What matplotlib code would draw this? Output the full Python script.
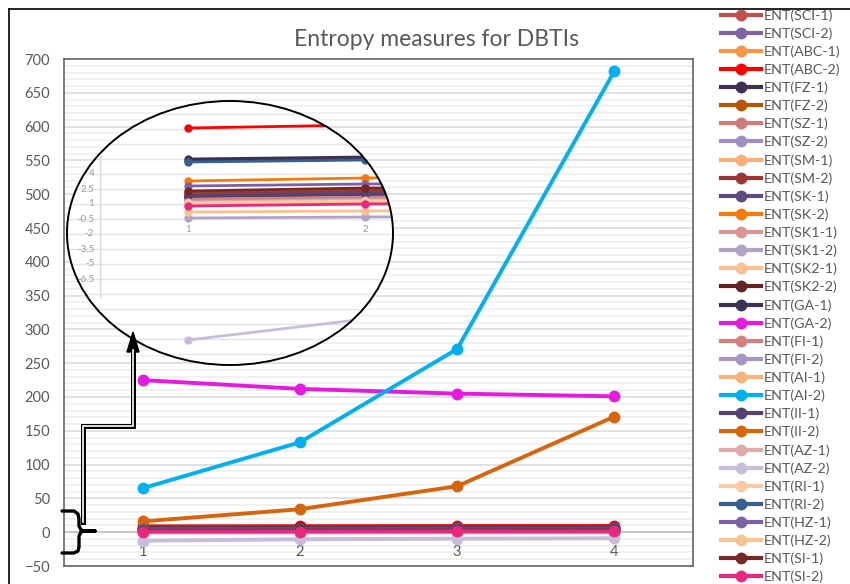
import matplotlib
matplotlib.use("Agg")
import matplotlib.pyplot as plt
from matplotlib.lines import Line2D
from matplotlib.patches import Ellipse, Polygon
from matplotlib.ticker import MultipleLocator

plt.rcParams['font.family'] = ['Lato', 'DejaVu Sans']

W, H = 850, 584
GRAY = '#595959'

# x categories (1..4) and the entropy series
steps = [1, 2, 3, 4]

names = ['SCI-1', 'SCI-2', 'ABC-1', 'ABC-2', 'FZ-1', 'FZ-2', 'SZ-1', 'SZ-2',
         'SM-1', 'SM-2', 'SK-1', 'SK-2', 'SK1-1', 'SK1-2', 'SK2-1', 'SK2-2',
         'GA-1', 'GA-2', 'FI-1', 'FI-2', 'AI-1', 'AI-2', 'II-1', 'II-2',
         'AZ-1', 'AZ-2', 'RI-1', 'RI-2', 'HZ-1', 'HZ-2', 'SI-1', 'SI-2']

colors = ['#C0504D', '#8064A2', '#F79646', '#FF0000', '#403152', '#B65708',
          '#D07B7A', '#A18EC2', '#F9B07A', '#9C3533', '#604A7B', '#F57A0A',
          '#DA9694', '#B3A2C7', '#FAC090', '#632523', '#3F3151', '#E619E1',
          '#D47F7E', '#A897C3', '#F8B27C', '#00B0F0', '#55426F', '#D8650B',
          '#E3A9A8', '#C8BCDA', '#FBCCA4', '#376092', '#7F60A8', '#FAC48F',
          '#772727', '#E8287F']

ent_sci1 = [1.8, 2.0, 2.1, 2.2]
ent_sci2 = [1.5, 1.7, 1.8, 1.9]
ent_abc1 = [1.3, 1.5, 1.6, 1.7]
ent_abc2 = [8.6, 8.9, 9.1, 9.2]
ent_fz1 = [5.5, 5.7, 5.8, 5.9]
ent_fz2 = [2.2, 2.5, 2.7, 2.8]
ent_sz1 = [1.6, 1.8, 1.9, 2.0]
ent_sz2 = [1.4, 1.6, 1.7, 1.8]
ent_sm1 = [1.2, 1.4, 1.5, 1.6]
ent_sm2 = [2.0, 2.3, 2.4, 2.5]
ent_sk1 = [1.9, 2.1, 2.2, 2.3]
ent_sk2 = [3.3, 3.6, 3.8, 3.9]
ent_sk1_1 = [1.1, 1.3, 1.4, 1.5]
ent_sk1_2 = [-0.4, -0.3, -0.2, -0.1]
ent_sk2_1 = [0.2, 0.3, 0.4, 0.5]
ent_sk2_2 = [1.7, 1.9, 2.0, 2.1]
ent_ga1 = [5.3, 5.5, 5.6, 5.7]
ent_ga2 = [225, 212, 205, 201]
ent_fi1 = [1.5, 1.7, 1.8, 1.9]
ent_fi2 = [1.3, 1.5, 1.6, 1.7]
ent_ai1 = [1.0, 1.2, 1.3, 1.4]
ent_ai2 = [65, 133, 271, 682]
ent_ii1 = [1.8, 2.0, 2.1, 2.2]
ent_ii2 = [16, 34, 68, 171]
ent_az1 = [1.2, 1.4, 1.5, 1.6]
ent_az2 = [-12.6, -10.5, -9.6, -9.0]
ent_ri1 = [1.1, 1.3, 1.4, 1.5]
ent_ri2 = [5.2, 5.4, 5.5, 5.6]
ent_hz1 = [2.8, 3.0, 3.1, 3.2]
ent_hz2 = [0.9, 1.1, 1.2, 1.3]
ent_si1 = [2.3, 2.6, 2.7, 2.8]
ent_si2 = [0.8, 1.0, 1.1, 1.2]

series = [ent_sci1, ent_sci2, ent_abc1, ent_abc2, ent_fz1, ent_fz2, ent_sz1,
          ent_sz2, ent_sm1, ent_sm2, ent_sk1, ent_sk2, ent_sk1_1, ent_sk1_2,
          ent_sk2_1, ent_sk2_2, ent_ga1, ent_ga2, ent_fi1, ent_fi2, ent_ai1,
          ent_ai2, ent_ii1, ent_ii2, ent_az1, ent_az2, ent_ri1, ent_ri2,
          ent_hz1, ent_hz2, ent_si1, ent_si2]

y_ticks = list(range(-50, 701, 50))
inset_ticks = [4, 2.5, 1, -0.5, -2, -3.5, -5, -6.5]


def px(x, y):
    """pixel position -> figure fraction"""
    return x / W, 1 - y / H


fig = plt.figure(figsize=(W / 100, H / 100), dpi=100)
ax = fig.add_axes([64 / W, 1 - 566 / H, 629 / W, 507 / H])

# grid
ax.set_ylim(-50, 700)
ax.set_xlim(0.5, 4.5)
ax.set_yticks(y_ticks)
ax.yaxis.set_minor_locator(MultipleLocator(10))
ax.grid(which='major', axis='y', color='#D9D9D9', lw=1.1, zorder=0)
ax.grid(which='minor', axis='y', color='#EDEDED', lw=1.1, zorder=0)
ax.set_axisbelow(True)
ax.axhline(0, color='#C8C8C8', lw=1.4, zorder=1)

for s in ax.spines.values():
    s.set_color(GRAY)
    s.set_linewidth(1.1)

ax.set_xticks([])
ax.tick_params(axis='y', which='both', length=0, pad=10, labelsize=10.5,
               labelcolor=GRAY)
for x in steps:
    ax.annotate(str(x), (x, 0), xytext=(0, -14.5), textcoords='offset points',
                ha='center', va='center', fontsize=10.5, color=GRAY)

handles = []
for i, (vals, c) in enumerate(zip(series, colors)):
    ax.plot(steps, vals, color=c, lw=2.8, marker='o', ms=7.5,
            mec=c, mfc=c, zorder=3 + i * 0.01, solid_capstyle='round')
    handles.append(Line2D([], [], color=c, lw=3, marker='o', ms=7.5,
                          mec=c, mfc=c))

fig.text(436 / W, 1 - 40 / H, 'Entropy measures for DBTIs', ha='center',
         va='center', fontsize=16.5, color=GRAY)

fig.legend(handles, ['ENT(%s)' % n for n in names], loc='upper left',
           bbox_to_anchor=px(721, 9), frameon=False, fontsize=10.3,
           handlelength=2.8, handletextpad=0.2, labelspacing=0.39,
           borderaxespad=0, borderpad=0, labelcolor=GRAY)

# zoomed view of the series crowded around zero
ins = fig.add_axes([67 / W, 1 - 365 / H, 326 / W, 264 / H])
ins.set_xlim(0.316, 2.158)
ins.set_ylim(-15.1, 11.3)
ins.axis('off')
oval = Ellipse((0.5, 0.5), 1, 1, transform=ins.transAxes, fc='white',
               ec='none', zorder=0)
ins.add_patch(oval)
rim = Ellipse((0.5, 0.5), 1, 1, transform=ins.transAxes, fc='none',
              ec='black', lw=1.4, zorder=10, clip_on=False)
ins.add_patch(rim)

grid_vals = [v * 1.5 - 0.5 for v in range(-9, 8)]
for g in grid_vals:
    ln = ins.axhline(g, color='#E4E4E4', lw=1.0, zorder=1)
    ln.set_clip_path(oval)
vax = ins.plot([0.503, 0.503], [5.9, -8.3], color='#DADADA', lw=1.0, zorder=1)[0]
vax.set_clip_path(oval)
for t in inset_ticks:
    lab = ins.text(0.47, t, ('%g' % t), ha='right', va='center', fontsize=7,
                   color='#9A9A9A', zorder=2)
    lab.set_clip_path(oval)
for x in [1, 2]:
    ins.text(x, -1.5, str(x), ha='center', va='center', fontsize=7,
             color='#9A9A9A', zorder=2)

for i, (vals, c) in enumerate(zip(series, colors)):
    if max(abs(v) for v in vals) > 15:
        continue
    ln = ins.plot(steps, vals, color=c, lw=2.0, marker='o', ms=5,
                  mec=c, mfc=c, zorder=3 + i * 0.01)[0]
    ln.set_clip_path(oval)

# outer frame (left and top edges only show)
fig.add_artist(Line2D([8.5 / W, 8.5 / W], [1 - 8.5 / H, 0], color='black',
                      lw=1.2, transform=fig.transFigure))
fig.add_artist(Line2D([8.5 / W, 1], [1 - 8.5 / H, 1 - 8.5 / H], color='black',
                      lw=1.2, transform=fig.transFigure))

# curly brace marking the near-zero cluster
brace = [(62, 511), (74, 511), (78, 514), (79, 519), (79, 526), (81, 530),
         (85, 531), (95, 531), (85, 531), (81, 532), (79, 536), (79, 547),
         (78, 551), (74, 553), (62, 553)]
bx, by = zip(*[px(*p) for p in brace])
fig.add_artist(Line2D(bx, by, color='black', lw=2.4, solid_joinstyle='round',
                      solid_capstyle='round', transform=fig.transFigure))

# double-line arrow leading up to the zoom oval
route = [(83, 522), (83, 426), (133, 426), (133, 350)]
rx, ry = zip(*[px(*p) for p in route])
fig.add_artist(Line2D(rx, ry, color='black', lw=3.6, solid_joinstyle='miter',
                      transform=fig.transFigure))
fig.add_artist(Line2D(rx, ry, color='white', lw=1.2, solid_joinstyle='miter',
                      transform=fig.transFigure))
head = Polygon([px(133, 332), px(127, 352), px(139, 352)], closed=True,
               fc='black', ec='black', transform=fig.transFigure)
fig.add_artist(head)

fig.savefig('out.png', dpi=100, facecolor='white')
